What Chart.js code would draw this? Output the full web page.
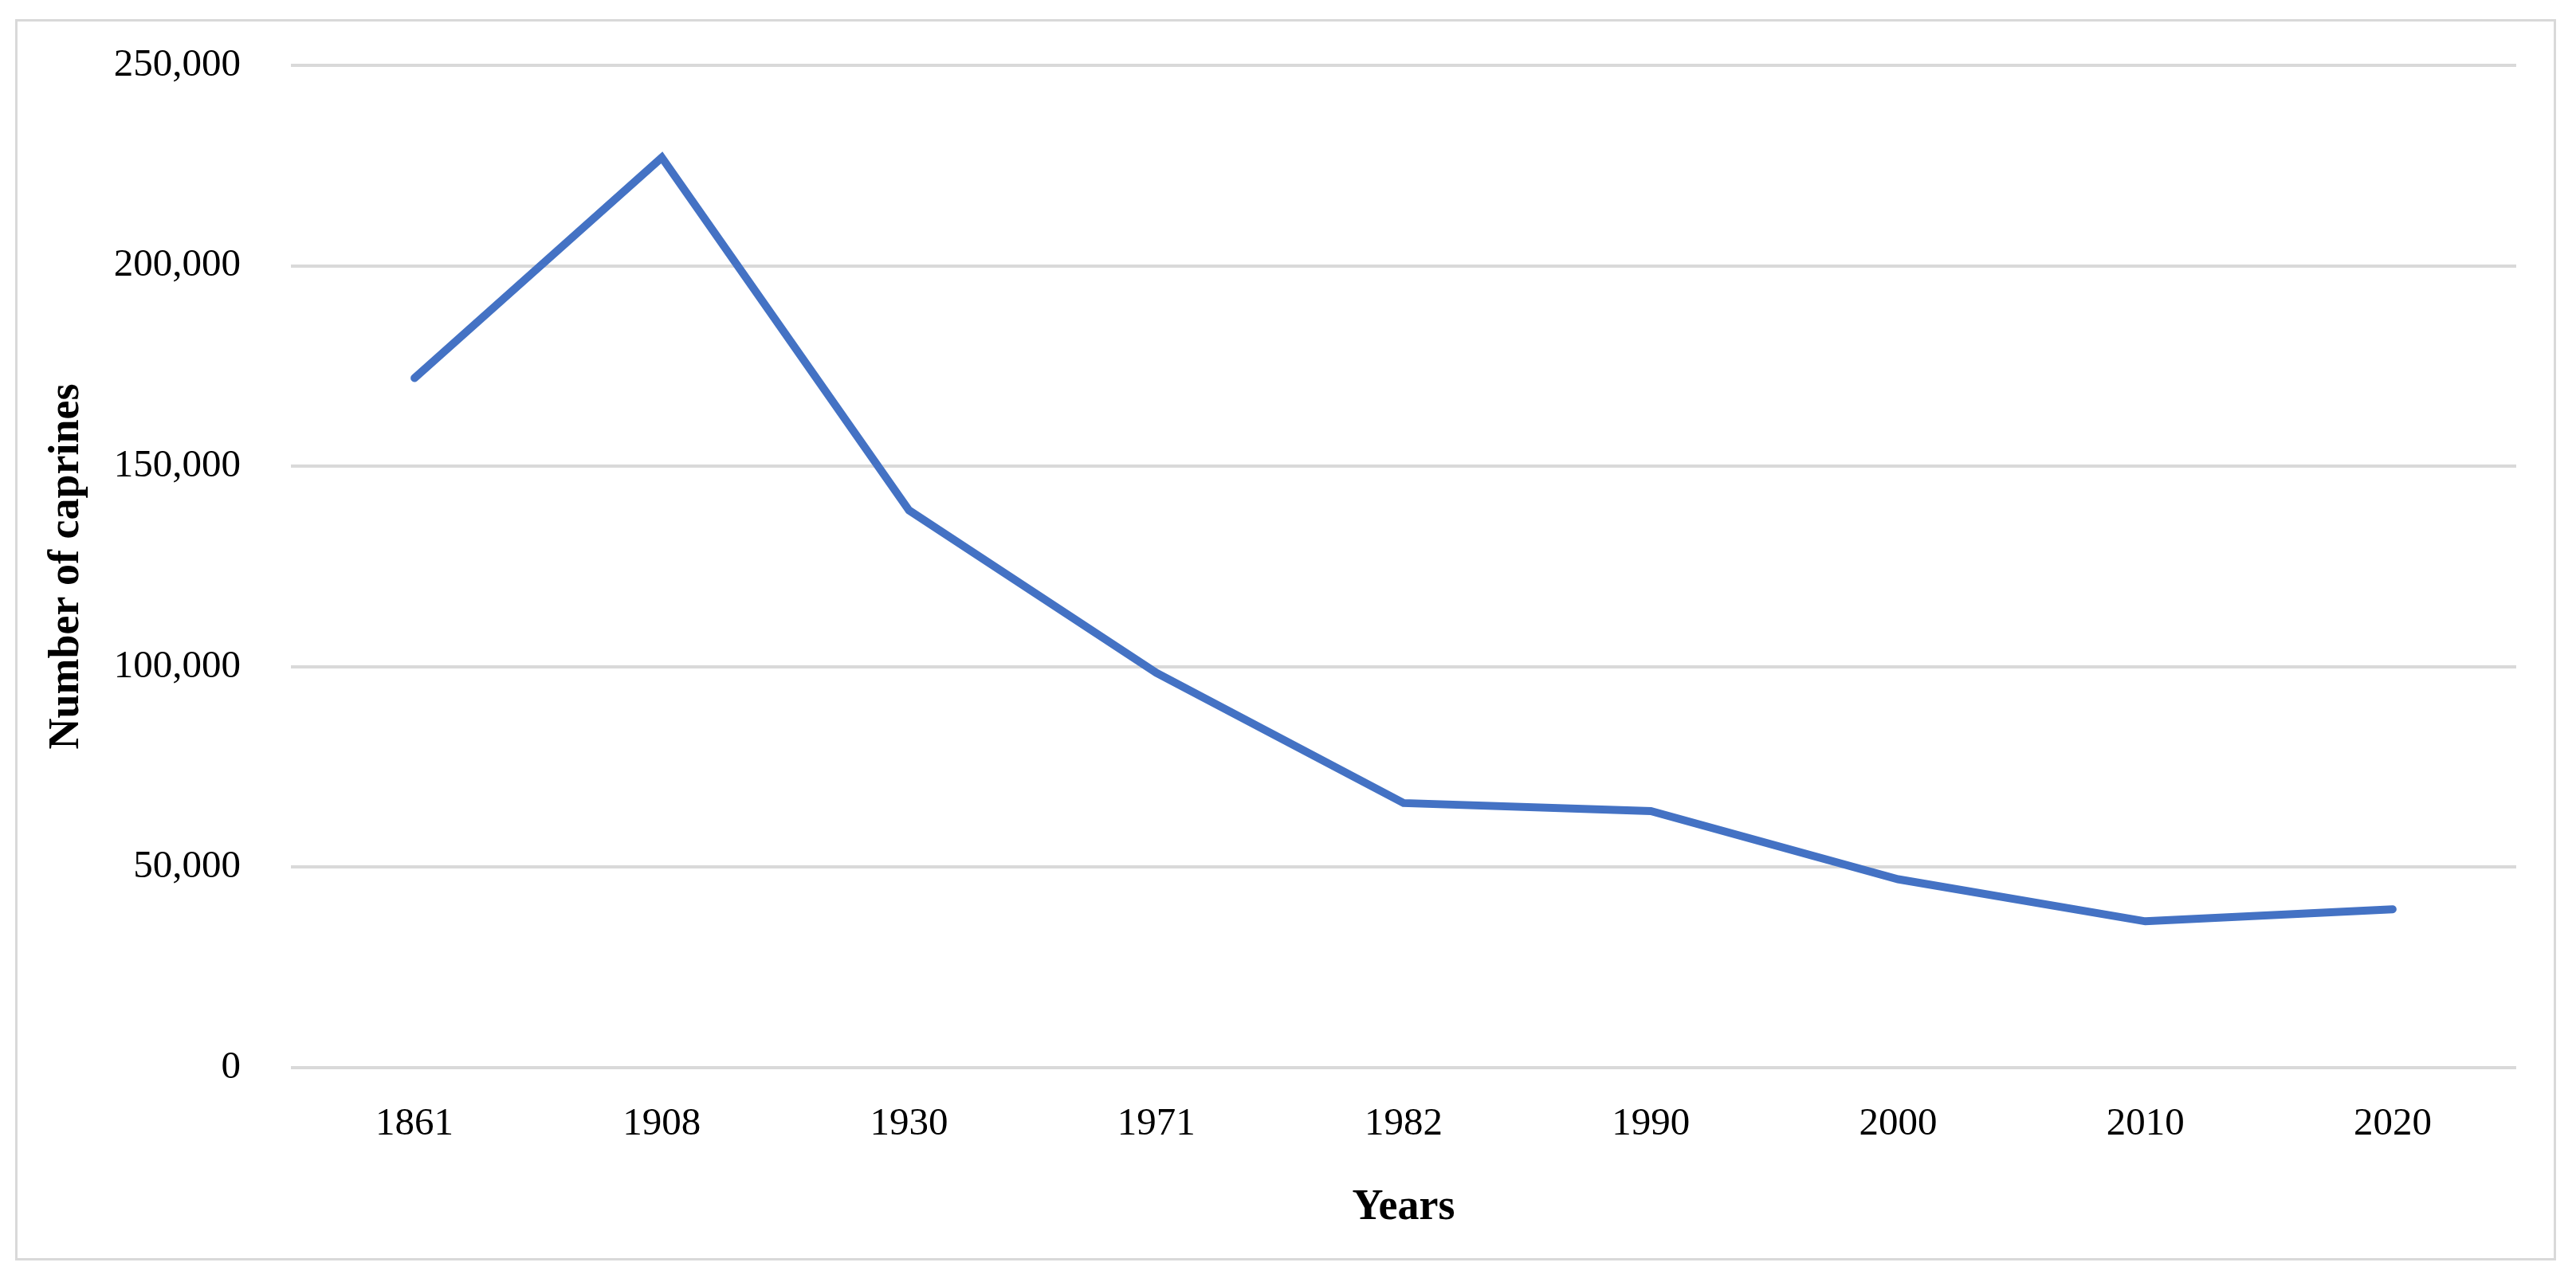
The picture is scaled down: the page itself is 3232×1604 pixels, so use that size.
<!DOCTYPE html>
<html>
<head>
<meta charset="utf-8">
<script src="https://cdn.jsdelivr.net/npm/chart.js@4/dist/chart.umd.min.js"></script>
<style>
  html, body { margin: 0; padding: 0; background: #ffffff; }
  #wrap { position: relative; width: 3232px; height: 1604px; }
  #frame { position: absolute; left: 19px; top: 24px; width: 3182px; height: 1552px; border: 3px solid #d9d9d9; box-sizing: content-box; pointer-events: none; }
  canvas { position: absolute; left: 0; top: 0; }
</style>
</head>
<body>
<div id="wrap">
  <div id="frame"></div>
  <canvas id="c" width="3232" height="1604"></canvas>
</div>
<script>
// ---- data ----
const years = ['1861', '1908', '1930', '1971', '1982', '1990', '2000', '2010', '2020'];
const caprines = [172000, 227000, 139000, 98500, 66000, 64000, 47000, 36500, 39500];
const yTickValues = [0, 50000, 100000, 150000, 200000, 250000];
const xAxisTitle = 'Years';
const yAxisTitle = 'Number of caprines';

const fontFamily = '"Liberation Serif", "Times New Roman", serif';

new Chart(document.getElementById('c'), {
  type: 'line',
  data: {
    labels: years,
    datasets: [{
      label: yAxisTitle,
      data: caprines,
      borderColor: '#4472C4',
      backgroundColor: '#4472C4',
      borderWidth: 10,
      pointRadius: 0,
      pointHoverRadius: 0,
      tension: 0,
      borderCapStyle: 'round',
      borderJoinStyle: 'miter',
      fill: false
    }]
  },
  options: {
    responsive: false,
    animation: false,
    devicePixelRatio: 1,
    layout: { padding: { left: 0, right: 75, top: 82, bottom: 0 } },
    plugins: { legend: { display: false }, tooltip: { enabled: false }, title: { display: false } },
    scales: {
      x: {
        type: 'category',
        offset: true,
        grid: { display: false, drawTicks: false },
        border: { display: false },
        ticks: { color: '#000', padding: 42, font: { family: fontFamily, size: 49 }, maxRotation: 0, autoSkip: false },
        title: { display: true, text: xAxisTitle, color: '#000', font: { family: fontFamily, size: 54, weight: 'bold' }, padding: { top: 0, bottom: 56 } },
        afterFit(scale) { scale.height = 1604 - 1340; scale.paddingLeft = 0; scale.paddingRight = 0; }
      },
      y: {
        min: 0,
        max: 250000,
        afterBuildTicks(scale) { scale.ticks = yTickValues.map(v => ({ value: v })); },
        grid: { color: '#d9d9d9', lineWidth: 4, drawTicks: false },
        border: { display: false },
        ticks: {
          color: '#000', padding: 63,
          font: { family: fontFamily, size: 49 },
          callback: v => Number(v).toLocaleString('en-US')
        },
        title: { display: true, text: yAxisTitle, color: '#000', font: { family: fontFamily, size: 54, weight: 'bold' }, padding: { top: 52, bottom: 0 } },
        afterFit(scale) { scale.width = 365; scale.paddingTop = 0; scale.paddingBottom = 0; }
      }
    }
  }
});
</script>
</body>
</html>
